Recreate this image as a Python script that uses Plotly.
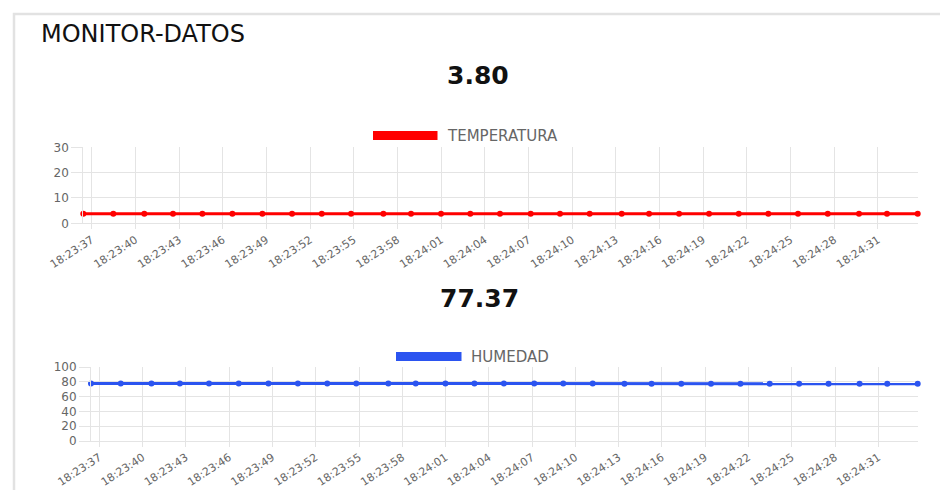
import plotly.graph_objects as go

W, H = 940, 490

# ---- data ----
times = [
    "2023-05-10 18:23:36.42", "2023-05-10 18:23:38.48", "2023-05-10 18:23:40.61",
    "2023-05-10 18:23:42.58", "2023-05-10 18:23:44.60", "2023-05-10 18:23:46.66",
    "2023-05-10 18:23:48.72", "2023-05-10 18:23:50.76", "2023-05-10 18:23:52.80",
    "2023-05-10 18:23:54.81", "2023-05-10 18:23:57.03", "2023-05-10 18:23:58.93",
    "2023-05-10 18:24:00.99", "2023-05-10 18:24:03.00", "2023-05-10 18:24:05.04",
    "2023-05-10 18:24:07.15", "2023-05-10 18:24:09.16", "2023-05-10 18:24:11.20",
    "2023-05-10 18:24:13.40", "2023-05-10 18:24:15.28", "2023-05-10 18:24:17.34",
    "2023-05-10 18:24:19.40", "2023-05-10 18:24:21.44", "2023-05-10 18:24:23.47",
    "2023-05-10 18:24:25.51", "2023-05-10 18:24:27.55", "2023-05-10 18:24:29.70",
    "2023-05-10 18:24:31.62", "2023-05-10 18:24:33.73",
]
temperatura = [
    3.80, 3.80, 3.80, 3.80, 3.80, 3.80, 3.80, 3.80, 3.80, 3.80,
    3.80, 3.80, 3.80, 3.80, 3.80, 3.80, 3.80, 3.80, 3.80, 3.80,
    3.80, 3.80, 3.80, 3.80, 3.80, 3.80, 3.80, 3.80, 3.80,
]
humedad = [
    77.82, 77.80, 77.79, 77.77, 77.75, 77.74, 77.72, 77.70, 77.69, 77.67,
    77.66, 77.64, 77.62, 77.61, 77.60, 77.58, 77.56, 77.55, 77.53, 77.51,
    77.50, 77.48, 77.47, 77.45, 77.44, 77.42, 77.40, 77.39, 77.37,
]
titulo = "MONITOR-DATOS"
valor_temp = "3.80"
valor_hum = "77.37"
nombre_temp = "TEMPERATURA"
nombre_hum = "HUMEDAD"
tick_inicio = "2023-05-10 18:23:37"

# ---- styles ----
RED = "#ff0000"
BLUE = "#2b54f0"
GRID = "#e4e4e4"
TXT = "#666666"
FONT = "DejaVu Sans"


def px(x):
    return x / W


def py(y):
    return 1 - y / H


fig = go.Figure()
fig.add_trace(go.Scatter(x=times, y=temperatura, mode="lines+markers", name=nombre_temp,
                         line=dict(color=RED, width=3), marker=dict(color=RED, size=6),
                         xaxis="x", yaxis="y", cliponaxis=False))
fig.add_trace(go.Scatter(x=times, y=humedad, mode="lines+markers", name=nombre_hum,
                         line=dict(color=BLUE, width=3), marker=dict(color=BLUE, size=6),
                         xaxis="x2", yaxis="y2", cliponaxis=False))

xcommon = dict(type="date", range=[times[0], times[-1]], tick0=tick_inicio, dtick=3000,
               tickformat="%H:%M:%S", tickangle=-33, showgrid=True, gridcolor=GRID,
               gridwidth=1, ticks="outside", ticklen=5, tickcolor=GRID,
               tickfont=dict(family=FONT, size=11, color=TXT), showline=True,
               linecolor=GRID, linewidth=1, zeroline=False, fixedrange=True,
               automargin=False)
ycommon = dict(showgrid=True, gridcolor=GRID, gridwidth=1, ticks="outside", ticklen=11,
               tickcolor=GRID, tickfont=dict(family=FONT, size=12, color=TXT),
               showline=True, linecolor=GRID, linewidth=1, zeroline=False, fixedrange=True,
               automargin=False)

fig.update_layout(
    width=W, height=H,
    margin=dict(l=0, r=0, t=0, b=0, pad=0),
    paper_bgcolor="white", plot_bgcolor="white",
    showlegend=False,
    xaxis=dict(domain=[px(83.3), px(917.7)], anchor="y", **xcommon),
    yaxis=dict(domain=[py(223.3), py(147.3)], anchor="x", range=[0, 30], dtick=10, **ycommon),
    xaxis2=dict(domain=[px(91), px(917.7)], anchor="y2", **xcommon),
    yaxis2=dict(domain=[py(441), py(367)], anchor="x2", range=[0, 100], dtick=20, **ycommon),
    shapes=[
        dict(type="rect", xref="paper", yref="paper", x0=px(14), y0=py(14), x1=1.1, y1=-0.1,
             line=dict(color="#e2e2e2", width=2.5), layer="below"),
        dict(type="rect", xref="paper", yref="paper", x0=px(373), x1=px(437.5),
             y0=py(140), y1=py(131), fillcolor=RED, line=dict(width=0)),
        dict(type="rect", xref="paper", yref="paper", x0=px(396), x1=px(461.5),
             y0=py(361), y1=py(352), fillcolor=BLUE, line=dict(width=0)),
    ],
    annotations=[
        dict(text=titulo, xref="paper", yref="paper", x=px(39), y=py(34), xanchor="left",
             yanchor="middle", showarrow=False, font=dict(family=FONT, size=24, color="#111111")),
        dict(text="<b>" + valor_temp + "</b>", xref="paper", yref="paper", x=px(478), y=py(75),
             xanchor="center", yanchor="middle", showarrow=False,
             font=dict(family=FONT, size=25, color="#111111")),
        dict(text="<b>" + valor_hum + "</b>", xref="paper", yref="paper", x=px(479), y=py(298),
             xanchor="center", yanchor="middle", showarrow=False,
             font=dict(family=FONT, size=25, color="#111111")),
        dict(text=nombre_temp, xref="paper", yref="paper", x=px(445), y=py(136),
             xanchor="left", yanchor="middle", showarrow=False,
             font=dict(family=FONT, size=15, color=TXT)),
        dict(text=nombre_hum, xref="paper", yref="paper", x=px(469), y=py(357),
             xanchor="left", yanchor="middle", showarrow=False,
             font=dict(family=FONT, size=15, color=TXT)),
    ],
)

fig.write_html("out.html", config={"displayModeBar": False},
               post_script="document.body.style.margin='0px';document.body.style.overflow='hidden';")
